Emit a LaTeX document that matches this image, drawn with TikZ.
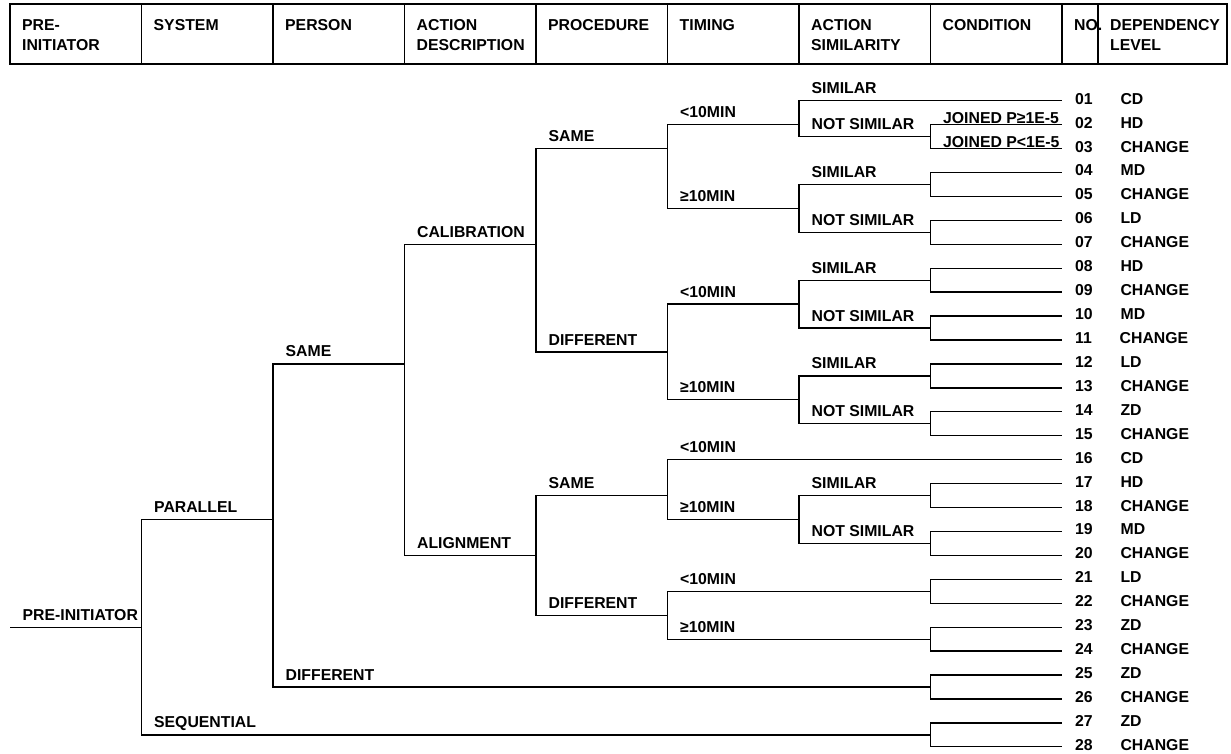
\documentclass[tikz,border=0pt]{standalone}
\usepackage{fontspec}
\setmainfont{Liberation Sans}
\usetikzlibrary{positioning}
\tikzset{every node/.style={font=\bfseries\fontsize{15.8}{20}\selectfont, inner sep=0pt}}
\tikzset{tree/.style={draw=black, line width=1.3pt}}
\tikzset{branch/.style={pos=0.5, anchor=base west, xshift=12pt, yshift=7pt}}
\tikzset{joined/.style={pos=0.5, anchor=base west, xshift=12pt, yshift=1.5pt}}
\tikzset{head/.style={anchor=north west, align=left}}
\tikzset{leafno/.style={anchor=base west}}

\begin{document}
\begin{tikzpicture}[x=1pt, y=-1pt]
  \useasboundingbox (0,0) rectangle (1231,753);

    %%%% Header row
    \draw[line width=1.4pt] (10,4) rectangle (1227,64);
    \foreach \x in {141.5,273,404.5,536,667.5,799,930.5,1062,1098}
      \draw[line width=1.4pt] (\x,4) -- (\x,64);
    \node[head](hPre)  at (22,19.3)     {PRE-\\INITIATOR};
    \node[head](hSys)  at (153.5,19.3)  {SYSTEM};
    \node[head](hPer)  at (285,19.3)    {PERSON};
    \node[head](hAct)  at (416.5,19.3)  {ACTION\\DESCRIPTION};
    \node[head](hProc) at (548,19.3)    {PROCEDURE};
    \node[head](hTim)  at (679.5,19.3)  {TIMING};
    \node[head](hSim)  at (811,19.3)    {ACTION\\SIMILARITY};
    \node[head](hCond) at (942.5,19.3)  {CONDITION};
    \node[head](hNo)   at (1074,19.3)   {NO.};
    \node[head](hDep)  at (1110,19.3)   {DEPENDENCY\\LEVEL};

    %%%% Branch points
    \coordinate (in)      at (10,627.2);
    \coordinate (pre)     at (141.5,627.2);
    \coordinate (par)     at (273,519.5);
    \coordinate (seq)     at (930.5,734.9);
    \coordinate (same)    at (404.5,363.9);
    \coordinate (diffP)   at (930.5,687);
    \coordinate (cal)     at (536,244.3);
    \coordinate (ali)     at (536,555.4);
    \coordinate (calSame) at (667.5,148.6);
    \coordinate (calDiff) at (667.5,352);
    \coordinate (aliSame) at (667.5,495.6);
    \coordinate (aliDiff) at (667.5,615.2);
    \coordinate (t1) at (799,124.6);
    \coordinate (t2) at (799,208.4);
    \coordinate (t3) at (799,304.1);
    \coordinate (t4) at (799,399.8);
    \coordinate (t6) at (799,519.5);
    \coordinate (t7) at (930.5,591.3);
    \coordinate (t8) at (930.5,639.2);
    \coordinate (s2)  at (930.5,136.6);
    \coordinate (s3)  at (930.5,184.5);
    \coordinate (s4)  at (930.5,232.3);
    \coordinate (s5)  at (930.5,280.2);
    \coordinate (s6)  at (930.5,328.1);
    \coordinate (s7)  at (930.5,375.9);
    \coordinate (s8)  at (930.5,423.8);
    \coordinate (s9)  at (930.5,495.6);
    \coordinate (s10) at (930.5,543.4);

    %%%% Leaves: number and dependency level
    \foreach \lv [count=\r] in {CD,HD,CHANGE,MD,CHANGE,LD,CHANGE,HD,CHANGE,MD,
        CHANGE,LD,CHANGE,ZD,CHANGE,CD,HD,CHANGE,MD,CHANGE,LD,CHANGE,ZD,CHANGE,
        ZD,CHANGE,ZD,CHANGE} {
      \coordinate (leaf\r) at (1062,{100.7+23.93*(\r-1)});
      \node[leafno](no\r) at (1075,{104.2+23.93*(\r-1)}) {\ifnum\r<10 0\fi\r};
      \node[base right=27.4pt of no\r](lv\r) {\lv};
    }

    %%%% Pre-initiator, system, person
    \draw[tree] (in) -- node[branch, pos=0, xshift=0pt](lPre) {PRE-INITIATOR} (pre);
    \draw[tree] (pre) |- node[branch](lPar) {PARALLEL} (par);
    \draw[tree] (pre) |- node[branch](lSeq) {SEQUENTIAL} (seq);
    \draw[tree] (par) |- node[branch](lSame) {SAME} (same);
    \draw[tree] (par) |- node[branch](lDiff) {DIFFERENT} (diffP);

    %%%% Action description, procedure
    \draw[tree] (same) |- node[branch](lCal) {CALIBRATION} (cal);
    \draw[tree] (same) |- node[branch](lAli) {ALIGNMENT} (ali);
    \draw[tree] (cal) |- node[branch](lCalSame) {SAME} (calSame);
    \draw[tree] (cal) |- node[branch](lCalDiff) {DIFFERENT} (calDiff);
    \draw[tree] (ali) |- node[branch](lAliSame) {SAME} (aliSame);
    \draw[tree] (ali) |- node[branch](lAliDiff) {DIFFERENT} (aliDiff);

    %%%% Timing
    \draw[tree] (calSame) |- node[branch](lT1) {<10MIN} (t1);
    \draw[tree] (calSame) |- node[branch](lT2) {≥10MIN} (t2);
    \draw[tree] (calDiff) |- node[branch](lT3) {<10MIN} (t3);
    \draw[tree] (calDiff) |- node[branch](lT4) {≥10MIN} (t4);
    \draw[tree] (aliSame) |- node[branch](lT5) {<10MIN} (leaf16);
    \draw[tree] (aliSame) |- node[branch](lT6) {≥10MIN} (t6);
    \draw[tree] (aliDiff) |- node[branch](lT7) {<10MIN} (t7);
    \draw[tree] (aliDiff) |- node[branch](lT8) {≥10MIN} (t8);

    %%%% Action similarity
    \draw[tree] (t1) |- node[branch](lS1) {SIMILAR} (leaf1);
    \draw[tree] (t1) |- node[branch](lS2) {NOT SIMILAR} (s2);
    \draw[tree] (t2) |- node[branch](lS3) {SIMILAR} (s3);
    \draw[tree] (t2) |- node[branch](lS4) {NOT SIMILAR} (s4);
    \draw[tree] (t3) |- node[branch](lS5) {SIMILAR} (s5);
    \draw[tree] (t3) |- node[branch](lS6) {NOT SIMILAR} (s6);
    \draw[tree] (t4) |- node[branch](lS7) {SIMILAR} (s7);
    \draw[tree] (t4) |- node[branch](lS8) {NOT SIMILAR} (s8);
    \draw[tree] (t6) |- node[branch](lS9) {SIMILAR} (s9);
    \draw[tree] (t6) |- node[branch](lS10) {NOT SIMILAR} (s10);

    %%%% Condition
    \draw[tree] (s2) |- node[joined](lJ1) {JOINED P≥1E-5} (leaf2);
    \draw[tree] (s2) |- node[joined](lJ2) {JOINED P<1E-5} (leaf3);
    \foreach \f/\a/\b in {s3/4/5, s4/6/7, s5/8/9, s6/10/11, s7/12/13, s8/14/15,
        s9/17/18, s10/19/20, t7/21/22, t8/23/24, diffP/25/26, seq/27/28}
      \draw[tree] (\f) |- (leaf\a) (\f) |- (leaf\b);

\end{tikzpicture}
\end{document}
